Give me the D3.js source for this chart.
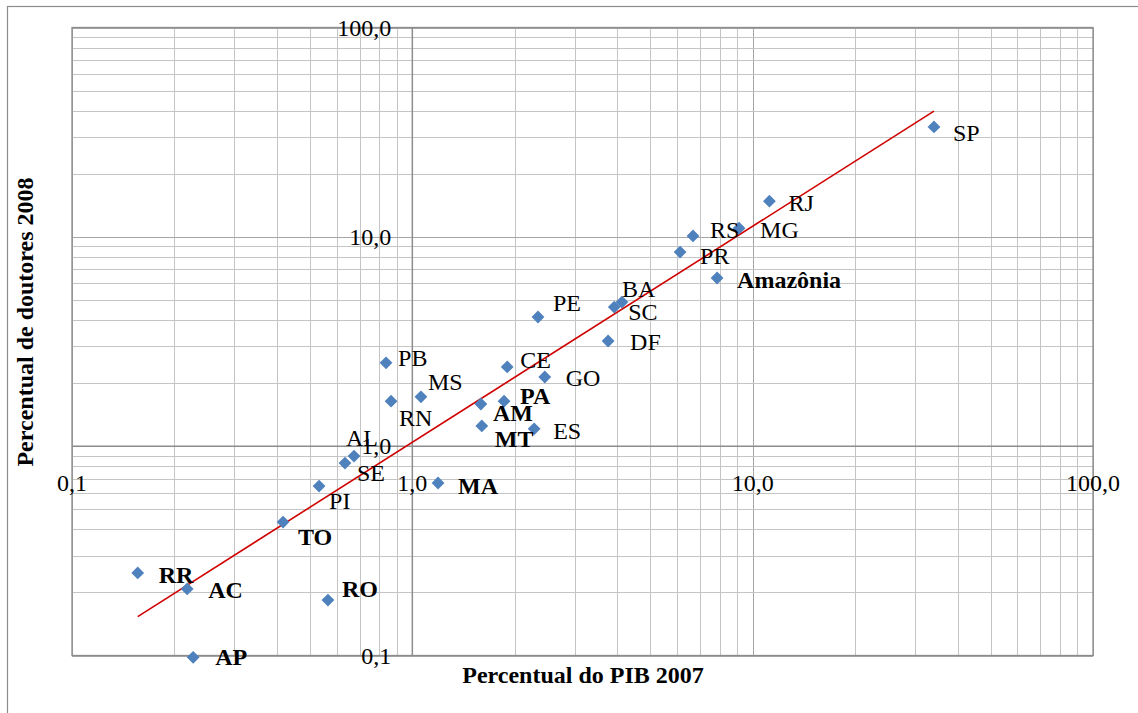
<!DOCTYPE html>
<html>
<head>
<meta charset="utf-8">
<script src="https://cdnjs.cloudflare.com/ajax/libs/d3/7.8.5/d3.min.js"></script>
<style>
    body { margin: 0; background: #fff; }
    svg { display: block; font-family: "Liberation Serif", "Times New Roman", serif; }
</style>
</head>
<body>
<svg width="1138" height="713"></svg>
<script>
// estados (UF) + agregado Amazônia
var ufs      = ["SP", "RJ", "MG", "RS", "PR", "Amazônia", "BA", "SC", "PE", "DF", "CE", "GO", "PA", "AM", "MT", "ES",
                "PB", "MS", "RN", "AL", "SE", "PI", "MA", "TO", "RR", "AC", "RO", "AP"];
// percentual do PIB 2007
var pib      = [34.1, 11.2, 9.12, 6.68, 6.12, 7.86, 4.13, 3.92, 2.34, 3.76, 1.90, 2.45, 1.86, 1.59, 1.60, 2.28,
                0.837, 1.06, 0.866, 0.674, 0.634, 0.532, 1.19, 0.417, 0.156, 0.218, 0.565, 0.227];
// percentual de doutores 2008
var doutores = [33.5, 14.8, 11.0, 10.1, 8.46, 6.36, 4.88, 4.62, 4.14, 3.18, 2.39, 2.14, 1.64, 1.59, 1.25, 1.21,
                2.50, 1.72, 1.64, 0.897, 0.830, 0.645, 0.667, 0.434, 0.248, 0.208, 0.184, 0.098];
// rótulos em negrito (Amazônia Legal)
var negrito  = ["Amazônia", "PA", "AM", "MT", "MA", "TO", "RR", "AC", "RO", "AP"];
var xTicks = [0.1, 1, 10, 100];
var yTicks = [0.1, 1, 10, 100];

// deslocamento dos rótulos (px) em relação ao ponto
var nudge = {
    SP: [19, 6], RJ: [19, 2], MG: [21, 2], RS: [17, -6], PR: [20, 4], "Amazônia": [20, 2],
    BA: [0, -13], SC: [14, 5], PE: [15, -14], DF: [22, 1], CE: [13, -7], GO: [21, 1],
    PA: [16, -5], AM: [12, 9], MT: [13, 13], ES: [19, 2], PB: [12, -5], MS: [7, -15],
    RN: [8, 17], AL: [-8, -18], SE: [12, 10], PI: [10, 15], MA: [20, 3], TO: [15, 15],
    RR: [21, 2], AC: [21, 1], RO: [14, -11], AP: [22, 0]
};

var data = ufs.map(function(d, i) { return {uf: d, x: pib[i], y: doutores[i]}; });

var svg = d3.select("svg");

var x = d3.scaleLog().domain([0.1, 100]).range([72, 1093]);
var y = d3.scaleLog().domain([0.1, 100]).range([655.5, 27.5]);

var fmt = d3.formatLocale({decimal: ",", thousands: ".", grouping: [3], currency: ["R$", ""]}).format(".1f");

// moldura externa
svg.append("rect")
    .attr("x", 7.5).attr("y", 6.5)
    .attr("width", 1200).attr("height", 800)
    .attr("fill", "#fff")
    .attr("stroke", "#8c8c8c")
    .attr("stroke-width", 1.2);

// grade (linhas principais e secundárias)
function minors(dom) {
    var out = [];
    for (var e = Math.log10(dom[0]); e < Math.log10(dom[1]); e++) {
        for (var k = 1; k < 10; k++) out.push(k * Math.pow(10, e));
    }
    out.push(dom[1]);
    return out;
}

var grid = svg.append("g").attr("shape-rendering", "crispEdges");

grid.selectAll(".vx")
    .data(minors(x.domain()))
    .enter().append("line")
    .attr("x1", function(d) { return Math.round(x(d)) + 0.5; })
    .attr("x2", function(d) { return Math.round(x(d)) + 0.5; })
    .attr("y1", y.range()[0]).attr("y2", y.range()[1])
    .attr("stroke", function(d) { return xTicks.indexOf(+d.toPrecision(3)) >= 0 ? "#a6a6a6" : "#c4c4c4"; })
    .attr("stroke-width", 1.2);

grid.selectAll(".hy")
    .data(minors(y.domain()))
    .enter().append("line")
    .attr("y1", function(d) { return Math.round(y(d)) + 0.5; })
    .attr("y2", function(d) { return Math.round(y(d)) + 0.5; })
    .attr("x1", x.range()[0]).attr("x2", x.range()[1])
    .attr("stroke", function(d) { return yTicks.indexOf(+d.toPrecision(3)) >= 0 ? "#a6a6a6" : "#c4c4c4"; })
    .attr("stroke-width", 1.2);

// borda da área de plotagem
svg.append("rect")
    .attr("x", x.range()[0]).attr("y", y.range()[1])
    .attr("width", x.range()[1] - x.range()[0])
    .attr("height", y.range()[0] - y.range()[1])
    .attr("fill", "none")
    .attr("stroke", "#8c8c8c")
    .attr("stroke-width", 1.3);

// eixos cruzando em 1,0
svg.append("line")
    .attr("x1", x(1)).attr("x2", x(1))
    .attr("y1", y.range()[0]).attr("y2", y.range()[1])
    .attr("stroke", "#8c8c8c").attr("stroke-width", 1.5);
svg.append("line")
    .attr("y1", y(1)).attr("y2", y(1))
    .attr("x1", x.range()[0]).attr("x2", x.range()[1])
    .attr("stroke", "#8c8c8c").attr("stroke-width", 1.5);

// rótulos dos eixos
svg.append("g").selectAll("text")
    .data(xTicks)
    .enter().append("text")
    .attr("x", function(d) { return x(d); })
    .attr("y", y(1) + 45)
    .attr("text-anchor", "middle")
    .style("font-size", "24px")
    .text(fmt);

svg.append("g").selectAll("text")
    .data(yTicks)
    .enter().append("text")
    .attr("x", x(1) - 21)
    .attr("y", function(d) { return y(d) + 8; })
    .attr("text-anchor", "end")
    .style("font-size", "24px")
    .text(fmt);

// linha de tendência (potência: regressão em log-log sobre todos os pontos)
var mx = d3.mean(data, function(d) { return Math.log10(d.x); }),
    my = d3.mean(data, function(d) { return Math.log10(d.y); });
var sxy = d3.sum(data, function(d) { return (Math.log10(d.x) - mx) * (Math.log10(d.y) - my); }),
    sxx = d3.sum(data, function(d) { return Math.pow(Math.log10(d.x) - mx, 2); });
var b = sxy / sxx, a = my - b * mx;
var ext = d3.extent(data, function(d) { return d.x; });

svg.append("path")
    .datum(ext)
    .attr("d", d3.line()
        .x(function(d) { return x(d); })
        .y(function(d) { return y(Math.pow(10, a + b * Math.log10(d))); }))
    .attr("fill", "none")
    .attr("stroke", "#d00000")
    .attr("stroke-width", 1.6);

// pontos
svg.append("g").selectAll("path")
    .data(data)
    .enter().append("path")
    .attr("d", d3.symbol(d3.symbolSquare, 82))
    .attr("transform", function(d) { return "translate(" + x(d.x) + "," + y(d.y) + ")rotate(45)"; })
    .attr("fill", "#4f81bd");

// rótulos dos pontos
svg.append("g").selectAll("text")
    .data(data)
    .enter().append("text")
    .attr("x", function(d) { return x(d.x) + nudge[d.uf][0]; })
    .attr("y", function(d) { return y(d.y) + nudge[d.uf][1] + 8; })
    .style("font-size", "24px")
    .style("font-weight", function(d) { return negrito.indexOf(d.uf) >= 0 ? "bold" : "normal"; })
    .text(function(d) { return d.uf; });

// títulos
svg.append("text")
    .attr("x", 583)
    .attr("y", 683)
    .attr("text-anchor", "middle")
    .style("font-size", "24px")
    .style("font-weight", "bold")
    .text("Percentual do PIB 2007");

svg.append("text")
    .attr("transform", "translate(33,322)rotate(-90)")
    .attr("text-anchor", "middle")
    .style("font-size", "24px")
    .style("font-weight", "bold")
    .text("Percentual de doutores 2008");
</script>
</body>
</html>
